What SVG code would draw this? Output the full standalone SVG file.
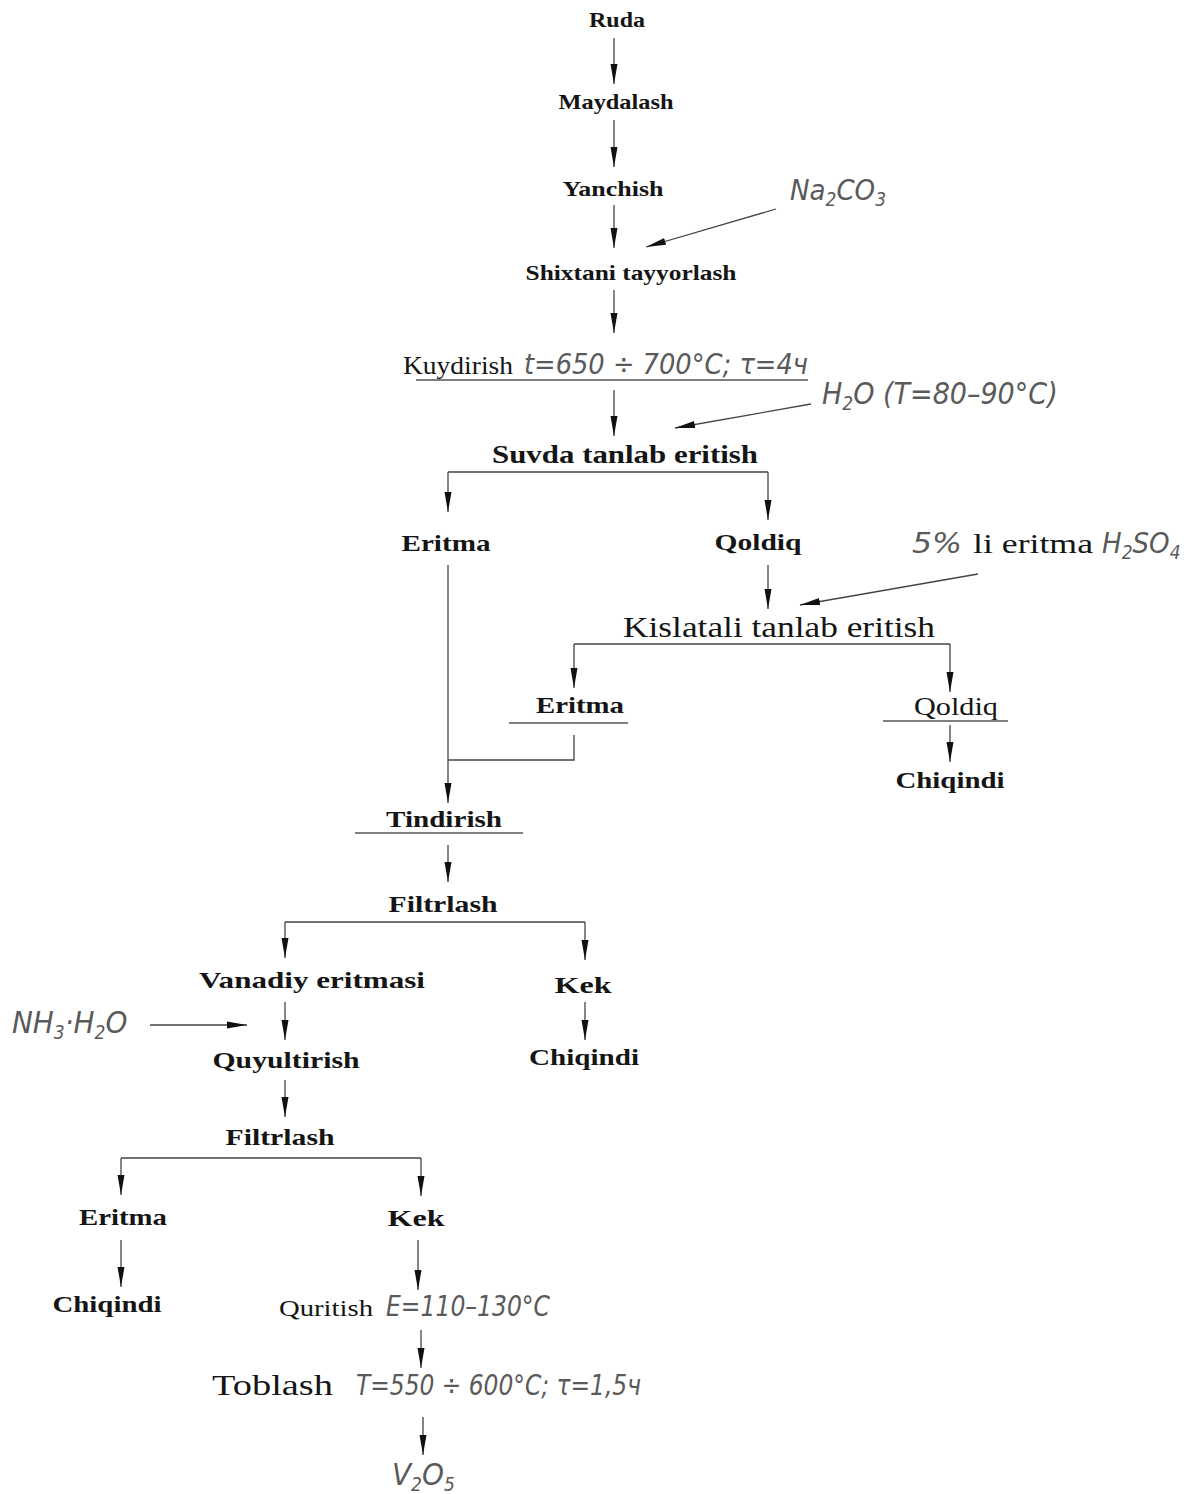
<svg xmlns="http://www.w3.org/2000/svg" width="1192" height="1494" viewBox="0 0 1192 1494">
<style>
.b{font-family:"Liberation Serif","Times New Roman",serif;font-weight:bold;font-size:24px;fill:#151515;text-anchor:middle}
.r{font-family:"Liberation Serif","Times New Roman",serif;font-size:26px;fill:#151515}
.g{font-family:"DejaVu Sans Condensed","Liberation Sans Narrow","DejaVu Sans",sans-serif;font-style:italic;font-stretch:condensed;font-size:28px;fill:#5a5a5a}
.s{font-size:19px}
.c line,.c path{stroke:#444;stroke-width:1.3;fill:none}
.u{stroke:#555;stroke-width:1.3}
</style>
<defs>
<marker id="ah" markerUnits="userSpaceOnUse" markerWidth="20" markerHeight="8" refX="20" refY="4" orient="auto">
<path d="M0,0.5 L20,4 L0,7.5 z" fill="#111"/>
</marker>
</defs>
<rect width="1192" height="1494" fill="#fff"/>
<g id="connectors" class="c">
<line x1="614" y1="38" x2="614" y2="84" marker-end="url(#ah)"/>
<line x1="614" y1="120" x2="614" y2="167" marker-end="url(#ah)"/>
<line x1="614" y1="205" x2="614" y2="248" marker-end="url(#ah)"/>
<line x1="776" y1="209" x2="646" y2="247" marker-end="url(#ah)"/>
<line x1="614" y1="290" x2="614" y2="333" marker-end="url(#ah)"/>
<line x1="614" y1="390" x2="614" y2="436" marker-end="url(#ah)"/>
<line x1="811" y1="404" x2="675" y2="428" marker-end="url(#ah)"/>
<path d="M448,472 H768"/>
<line x1="448" y1="472" x2="448" y2="512" marker-end="url(#ah)"/>
<line x1="768" y1="472" x2="768" y2="520" marker-end="url(#ah)"/>
<line x1="768" y1="565" x2="768" y2="609" marker-end="url(#ah)"/>
<line x1="978" y1="574" x2="800" y2="605" marker-end="url(#ah)"/>
<path d="M574,644 H950"/>
<line x1="574" y1="644" x2="574" y2="688" marker-end="url(#ah)"/>
<line x1="950" y1="644" x2="950" y2="692" marker-end="url(#ah)"/>
<path d="M574,735 V760 H448"/>
<line x1="448" y1="565" x2="448" y2="803" marker-end="url(#ah)"/>
<line x1="950" y1="725" x2="950" y2="762" marker-end="url(#ah)"/>
<line x1="448" y1="845" x2="448" y2="882" marker-end="url(#ah)"/>
<path d="M285,922 H585"/>
<line x1="285" y1="922" x2="285" y2="958" marker-end="url(#ah)"/>
<line x1="585" y1="922" x2="585" y2="960" marker-end="url(#ah)"/>
<line x1="285" y1="1002" x2="285" y2="1040" marker-end="url(#ah)"/>
<line x1="585" y1="1002" x2="585" y2="1040" marker-end="url(#ah)"/>
<line x1="150" y1="1025" x2="247" y2="1025" marker-end="url(#ah)"/>
<line x1="285" y1="1080" x2="285" y2="1117" marker-end="url(#ah)"/>
<path d="M121,1158 H421"/>
<line x1="121" y1="1158" x2="121" y2="1195" marker-end="url(#ah)"/>
<line x1="421" y1="1158" x2="421" y2="1196" marker-end="url(#ah)"/>
<line x1="121" y1="1240" x2="121" y2="1287" marker-end="url(#ah)"/>
<line x1="418" y1="1240" x2="418" y2="1290" marker-end="url(#ah)"/>
<line x1="421" y1="1330" x2="421" y2="1368" marker-end="url(#ah)"/>
<line x1="423" y1="1417" x2="423" y2="1455" marker-end="url(#ah)"/>
</g>
<g id="n-ruda"><text class="b" x="617" y="27" style="font-size:22px" textLength="56" lengthAdjust="spacingAndGlyphs">Ruda</text></g>
<g id="n-maydalash"><text class="b" x="616" y="109" style="font-size:22px" textLength="115" lengthAdjust="spacingAndGlyphs">Maydalash</text></g>
<g id="n-yanchish"><text class="b" x="613" y="196" style="font-size:22px" textLength="101" lengthAdjust="spacingAndGlyphs">Yanchish</text></g>
<g id="n-na2co3"><text class="g" x="790" y="200" style="font-size:29px">Na<tspan class="s" dy="6">2</tspan><tspan dy="-6">CO</tspan><tspan class="s" dy="6">3</tspan></text></g>
<g id="n-shixtani"><text class="b" x="631" y="280" style="font-size:22px" textLength="211" lengthAdjust="spacingAndGlyphs">Shixtani tayyorlash</text></g>
<g id="n-kuydirish">
<text class="r" x="403" y="374" textLength="110" lengthAdjust="spacingAndGlyphs">Kuydirish</text>
<text class="g" x="524" y="374" textLength="284" lengthAdjust="spacingAndGlyphs">t=650 ÷ 700°C; τ=4ч</text>
<line class="u" x1="416" y1="380" x2="808" y2="380"/>
</g>
<g id="n-h2o"><text class="g" x="822" y="404" style="font-size:30px">H<tspan class="s" dy="6">2</tspan><tspan dy="-6">O (T=80–90°C)</tspan></text></g>
<g id="n-suvda"><text class="b" x="625" y="463" style="font-size:26px" textLength="266" lengthAdjust="spacingAndGlyphs">Suvda tanlab eritish</text></g>
<g id="n-eritma1"><text class="b" x="446" y="551" textLength="89" lengthAdjust="spacingAndGlyphs">Eritma</text></g>
<g id="n-qoldiq1"><text class="b" x="758" y="550" textLength="87" lengthAdjust="spacingAndGlyphs">Qoldiq</text></g>
<g id="n-h2so4">
<text class="g" x="912" y="553" textLength="50" lengthAdjust="spacingAndGlyphs">5%</text>
<text class="r" x="973" y="553" style="font-size:28px" textLength="120" lengthAdjust="spacingAndGlyphs">li eritma</text>
<text class="g" x="1102" y="553" style="font-size:29px">H<tspan class="s" dy="6">2</tspan><tspan dy="-6">SO</tspan><tspan class="s" dy="6">4</tspan></text>
</g>
<g id="n-kislatali"><text class="r" x="779" y="637" style="font-size:30px" text-anchor="middle" textLength="312" lengthAdjust="spacingAndGlyphs">Kislatali tanlab eritish</text></g>
<g id="n-eritma2">
<text class="b" x="580" y="713" textLength="88" lengthAdjust="spacingAndGlyphs">Eritma</text>
<line class="u" x1="509" y1="723" x2="628" y2="723"/>
</g>
<g id="n-qoldiq2">
<text class="r" x="956" y="715" text-anchor="middle" textLength="84" lengthAdjust="spacingAndGlyphs">Qoldiq</text>
<line class="u" x1="883" y1="721" x2="1008" y2="721"/>
</g>
<g id="n-chiqindi1"><text class="b" x="950" y="788" textLength="109" lengthAdjust="spacingAndGlyphs">Chiqindi</text></g>
<g id="n-tindirish">
<text class="b" x="444" y="827" textLength="116" lengthAdjust="spacingAndGlyphs">Tindirish</text>
<line class="u" x1="355" y1="833" x2="523" y2="833"/>
</g>
<g id="n-filtrlash1"><text class="b" x="443" y="912" textLength="109" lengthAdjust="spacingAndGlyphs">Filtrlash</text></g>
<g id="n-vanadiy"><text class="b" x="312" y="988" textLength="226" lengthAdjust="spacingAndGlyphs">Vanadiy eritmasi</text></g>
<g id="n-kek1"><text class="b" x="583" y="993" textLength="57" lengthAdjust="spacingAndGlyphs">Kek</text></g>
<g id="n-nh3"><text class="g" x="12" y="1033" style="font-size:31px">NH<tspan class="s" dy="6">3</tspan><tspan dy="-6">·H</tspan><tspan class="s" dy="6">2</tspan><tspan dy="-6">O</tspan></text></g>
<g id="n-quyultirish"><text class="b" x="286" y="1068" textLength="147" lengthAdjust="spacingAndGlyphs">Quyultirish</text></g>
<g id="n-chiqindi2"><text class="b" x="584" y="1065" textLength="110" lengthAdjust="spacingAndGlyphs">Chiqindi</text></g>
<g id="n-filtrlash2"><text class="b" x="280" y="1145" textLength="109" lengthAdjust="spacingAndGlyphs">Filtrlash</text></g>
<g id="n-eritma3"><text class="b" x="123" y="1225" textLength="88" lengthAdjust="spacingAndGlyphs">Eritma</text></g>
<g id="n-kek2"><text class="b" x="416" y="1226" textLength="57" lengthAdjust="spacingAndGlyphs">Kek</text></g>
<g id="n-chiqindi3"><text class="b" x="107" y="1312" textLength="109" lengthAdjust="spacingAndGlyphs">Chiqindi</text></g>
<g id="n-quritish">
<text class="r" x="279" y="1316" style="font-size:24px" textLength="94" lengthAdjust="spacingAndGlyphs">Quritish</text>
<text class="g" x="386" y="1316" textLength="164" lengthAdjust="spacingAndGlyphs">E=110–130°C</text>
</g>
<g id="n-toblash">
<text class="r" x="212" y="1395" style="font-size:30px" textLength="121" lengthAdjust="spacingAndGlyphs">Toblash</text>
<text class="g" x="356" y="1395" textLength="285" lengthAdjust="spacingAndGlyphs">T=550 ÷ 600°C; τ=1,5ч</text>
</g>
<g id="n-v2o5"><text class="g" x="392" y="1485" style="font-size:31px">V<tspan class="s" dy="6">2</tspan><tspan dy="-6">O</tspan><tspan class="s" dy="6">5</tspan></text></g>
</svg>
